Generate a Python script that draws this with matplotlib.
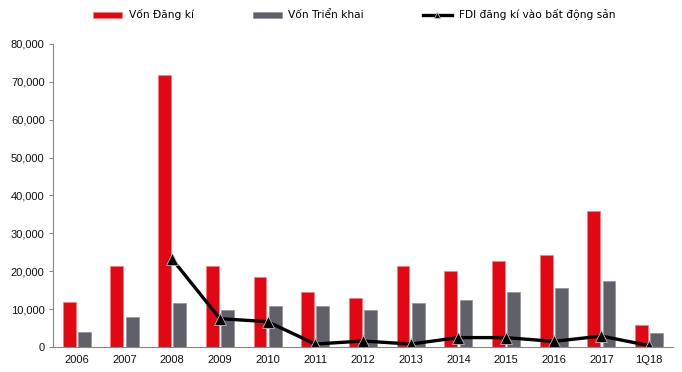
import numpy as np
import matplotlib.pyplot as plt

# Data.
categories = ['2006', '2007', '2008', '2009', '2010', '2011', '2012',
              '2013', '2014', '2015', '2016', '2017', '1Q18']
von_dang_ki = [11900, 21300, 71700, 21300, 18500, 14500, 13000,
               21500, 20200, 22700, 24200, 35800, 5700]
von_trien_khai = [3900, 8000, 11500, 9900, 10900, 10900, 9900,
                  11500, 12300, 14500, 15600, 17400, 3700]
fdi_bds = [None, None, 23200, 7500, 6700, 800, 1600,
           800, 2500, 2500, 1500, 2900, 400]
yticks = [0, 10000, 20000, 30000, 40000, 50000, 60000, 70000, 80000]

plt.rcParams['font.family'] = ['Liberation Sans', 'DejaVu Sans']

fig = plt.figure(figsize=(6.82, 3.72), dpi=100)
ax = fig.add_axes([0.0777, 0.067, 0.909, 0.815])

x = np.arange(len(categories))
w = 0.27
b1 = ax.bar(x - 0.16, von_dang_ki, w, color='#e30613', edgecolor='#f08080',
            linewidth=0.5, label='Vốn Đăng kí')
b2 = ax.bar(x + 0.16, von_trien_khai, w, color='#606068', edgecolor='#909098',
            linewidth=0.5, label='Vốn Triển khai')

fx = [i for i, v in enumerate(fdi_bds) if v is not None]
fy = [v for v in fdi_bds if v is not None]
l1, = ax.plot(fx, fy, color='black', linewidth=2.4, marker='^', markersize=8,
              markerfacecolor='black', markeredgecolor='#bbbbbb',
              markeredgewidth=0.6, label='FDI đăng kí vào bất động sản')

ax.set_xlim(-0.5, len(categories) - 0.5)
ax.set_ylim(0, 80000)
ax.set_yticks(yticks)
ax.set_yticklabels(['{:,}'.format(v) for v in yticks])
ax.set_xticks(x)
ax.set_xticklabels(categories)
ax.tick_params(axis='x', length=0, pad=6, labelsize=8, labelcolor='#111111')
ax.tick_params(axis='y', length=3, color='#888888', pad=3, labelsize=8,
               labelcolor='#111111')
for s in ['top', 'right']:
    ax.spines[s].set_visible(False)
ax.spines['left'].set_color('#888888')
ax.spines['bottom'].set_color('#888888')

fig.legend([b1, b2, l1], [b1.get_label(), b2.get_label(), l1.get_label()],
           loc='center left', bbox_to_anchor=(93 / 682, 0.96), ncol=3,
           frameon=False, borderpad=0, borderaxespad=0,
           handlelength=2.7, handleheight=0.5, handletextpad=0.65,
           columnspacing=5.5, markerscale=0.5,
           prop={'family': ['Liberation Sans Narrow', 'DejaVu Sans'], 'size': 7.7})

fig.savefig('out.png', dpi=100)
